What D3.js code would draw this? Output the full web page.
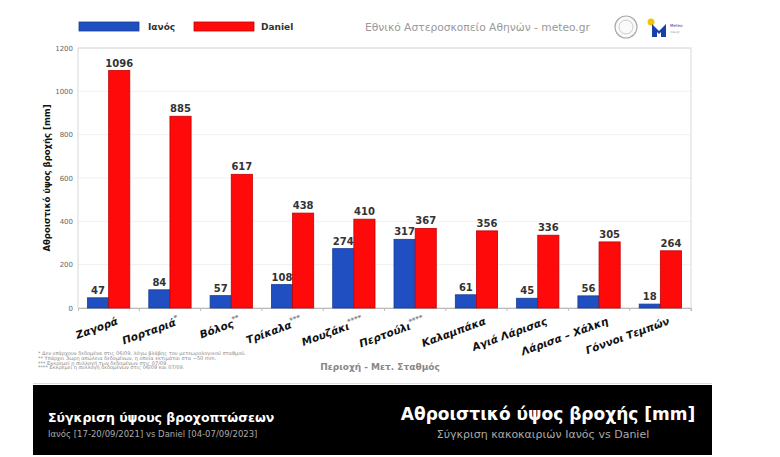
<!DOCTYPE html>
<html><head><meta charset="utf-8">
<script src="https://cdn.jsdelivr.net/npm/d3@7"></script>
<style>body{margin:0;background:#fff}svg{display:block}</style>
</head><body>
<script>
const categories = ["Ζαγορά","Πορταριά","Βόλος","Τρίκαλα","Μουζάκι","Περτούλι","Καλαμπάκα","Αγιά Λάρισας","Λάρισα – Χάλκη","Γόννοι Τεμπών"];
const marks = ["","*","**","***","****","****","","","",""];
const ianos = [47,84,57,108,274,317,61,45,56,18];
const daniel = [1096,885,617,438,410,367,356,336,305,264];
const seriesNames = ["Ιανός","Daniel"];
const yTicks = [0,200,400,600,800,1000,1200];
const footnotes = [
 "* Δεν υπάρχουν δεδομένα στις 06/09, λόγω βλάβης του μετεωρολογικού σταθμού.",
 "** Υπάρχει 3ωρη απώλεια δεδομένων, η οποία εκτιμάται στα ~50 mm.",
 "*** Εκκρεμεί η συλλογή των δεδομένων στις 07/09.",
 "**** Εκκρεμεί η συλλογή δεδομένων στις 06/09 και 07/09."
];

const W=780,H=457;
const svg=d3.select("body").append("svg").attr("width",W).attr("height",H);
const F="DejaVu Sans, Verdana, sans-serif";
const colors={fill:["#1f4fc0","#ff0a0a"],stroke:["#163c96","#c40000"]};

const m={l:78,r:691,t:48,b:308};
const x=d3.scaleBand().domain(categories).range([m.l,m.r]).paddingInner(0.31).paddingOuter(0.155);
const xs=d3.scaleBand().domain(seriesNames).range([0,x.bandwidth()]);
const y=d3.scaleLinear().domain([0,1200]).range([m.b,m.t]);

// gridlines
svg.append("g").selectAll("line").data(yTicks).join("line")
 .attr("x1",m.l).attr("x2",m.r).attr("y1",d=>y(d)).attr("y2",d=>y(d))
 .attr("stroke","#ececec").attr("stroke-width",0.8);
// frame
svg.append("rect").attr("x",m.l).attr("y",m.t).attr("width",m.r-m.l).attr("height",m.b-m.t)
 .attr("fill","none").attr("stroke","#d8d8d8").attr("stroke-width",1);

// y axis
const ya=svg.append("g").attr("transform",`translate(${m.l},0)`)
 .call(d3.axisLeft(y).tickValues(yTicks).tickFormat(d3.format("d")).tickSize(0).tickPadding(5));
ya.select(".domain").remove();
ya.selectAll("text").attr("font-family",F).attr("font-size",7).attr("fill","#666");

// x axis
const xa=svg.append("g").attr("transform",`translate(0,${m.b})`)
 .call(d3.axisBottom(x).tickSize(3).tickFormat(""));
xa.select(".domain").attr("stroke","#bbb");
xa.selectAll(".tick line").attr("stroke","#bbb").attr("transform",`translate(${x.step()/2},0)`);

// bars
const data=categories.map((c,i)=>({c,v:[ianos[i],daniel[i]]}));
const g=svg.append("g").selectAll("g").data(data).join("g").attr("transform",d=>`translate(${x(d.c)},0)`);
g.selectAll("rect").data(d=>d.v.map((v,k)=>({v,k}))).join("rect")
 .attr("x",d=>xs(seriesNames[d.k])).attr("width",xs.bandwidth())
 .attr("y",d=>y(d.v)).attr("height",d=>y(0)-y(d.v))
 .attr("fill",d=>colors.fill[d.k]).attr("stroke",d=>colors.stroke[d.k]).attr("stroke-width",0.8);
g.selectAll("text").data(d=>d.v.map((v,k)=>({v,k}))).join("text")
 .attr("x",d=>xs(seriesNames[d.k])+xs.bandwidth()/2).attr("y",d=>y(d.v)-4)
 .attr("text-anchor","middle").attr("font-family",F).attr("font-weight","bold")
 .attr("font-size",10).attr("fill","#333").text(d=>d.v);

// category labels
const lab=svg.append("g").selectAll("text").data(categories).join("text")
 .attr("transform",d=>`translate(${x(d)+x.bandwidth()/2+10},${m.b+16}) rotate(-20)`)
 .attr("text-anchor","end").attr("font-family",F).attr("font-weight","bold").attr("font-style","italic")
 .attr("font-size",10.5).attr("fill","#111");
lab.append("tspan").text(d=>d);
lab.append("tspan").attr("dy",-5).attr("font-size",7).attr("fill","#777").text((d,i)=>marks[i]);

// y title
svg.append("text").attr("transform",`translate(50,${(m.t+m.b)/2}) rotate(-90)`)
 .attr("text-anchor","middle").attr("font-family",F).attr("font-weight","bold").attr("font-size",8.5)
 .attr("fill","#111").text("Αθροιστικό ύψος βροχής [mm]");
// x title
svg.append("text").attr("x",380).attr("y",370).attr("text-anchor","middle").attr("font-family",F)
 .attr("font-weight","bold").attr("font-size",9).attr("fill","#888").text("Περιοχή - Μετ. Σταθμός");

// footnotes
svg.append("g").selectAll("text").data(footnotes).join("text")
 .attr("x",38).attr("y",(d,i)=>355+i*4.8).attr("font-family",F).attr("font-size",5).attr("fill","#888").text(d=>d);

// legend
const lg=svg.append("g");
[[79,148],[194,261]].forEach((p,k)=>{
 lg.append("rect").attr("x",p[0]).attr("y",22).attr("width",60).attr("height",9)
  .attr("fill",colors.fill[k]).attr("stroke",colors.stroke[k]).attr("stroke-width",0.8);
 lg.append("text").attr("x",p[1]).attr("y",30).attr("font-family",F).attr("font-weight","bold")
  .attr("font-size",9).attr("fill","#333").text(seriesNames[k]);
});
svg.append("text").attr("x",365).attr("y",31).attr("font-family",F).attr("font-size",10.7)
 .attr("fill","#999").text("Εθνικό Αστεροσκοπείο Αθηνών - meteo.gr");
// logos
svg.append("circle").attr("cx",626).attr("cy",27).attr("r",11).attr("fill","#fafafa").attr("stroke","#aaa").attr("stroke-width",1.2);
svg.append("circle").attr("cx",626).attr("cy",27).attr("r",7).attr("fill","none").attr("stroke","#ccc").attr("stroke-width",1);
svg.append("circle").attr("cx",651).attr("cy",22).attr("r",3.5).attr("fill","#f5c400");
svg.append("path").attr("d","M652,37 L652,24 L659,31 L666,24 L666,37 L661,37 L661,32 L659,34 L657,32 L657,37 Z").attr("fill","#1b3fa8");
svg.append("text").attr("x",670).attr("y",27).attr("font-family",F).attr("font-size",4).attr("fill","#1b3fa8").text("Meteo");
svg.append("text").attr("x",670).attr("y",33).attr("font-family",F).attr("font-size",3).attr("fill","#999").text("noa.gr");

// banner
svg.append("line").attr("x1",33).attr("x2",712).attr("y1",383.5).attr("y2",383.5).attr("stroke","#ddd");
svg.append("rect").attr("x",33).attr("y",385).attr("width",679).attr("height",70).attr("fill","#000");
svg.append("text").attr("x",48).attr("y",422).attr("font-family",F).attr("font-weight","bold").attr("font-size",12.5)
 .attr("fill","#fff").text("Σύγκριση ύψους βροχοπτώσεων");
svg.append("text").attr("x",48).attr("y",437).attr("font-family",F).attr("font-size",8.5)
 .attr("fill","#aaa").text("Ιανός [17-20/09/2021] vs Daniel [04-07/09/2023]");
svg.append("text").attr("x",548).attr("y",420).attr("text-anchor","middle").attr("font-family",F).attr("font-weight","bold").attr("font-size",17)
 .attr("fill","#fff").text("Αθροιστικό ύψος βροχής [mm]");
svg.append("text").attr("x",543).attr("y",438).attr("text-anchor","middle").attr("font-family",F).attr("font-size",11)
 .attr("fill","#aaa").text("Σύγκριση κακοκαιριών Ιανός vs Daniel");
</script>
</body></html>
